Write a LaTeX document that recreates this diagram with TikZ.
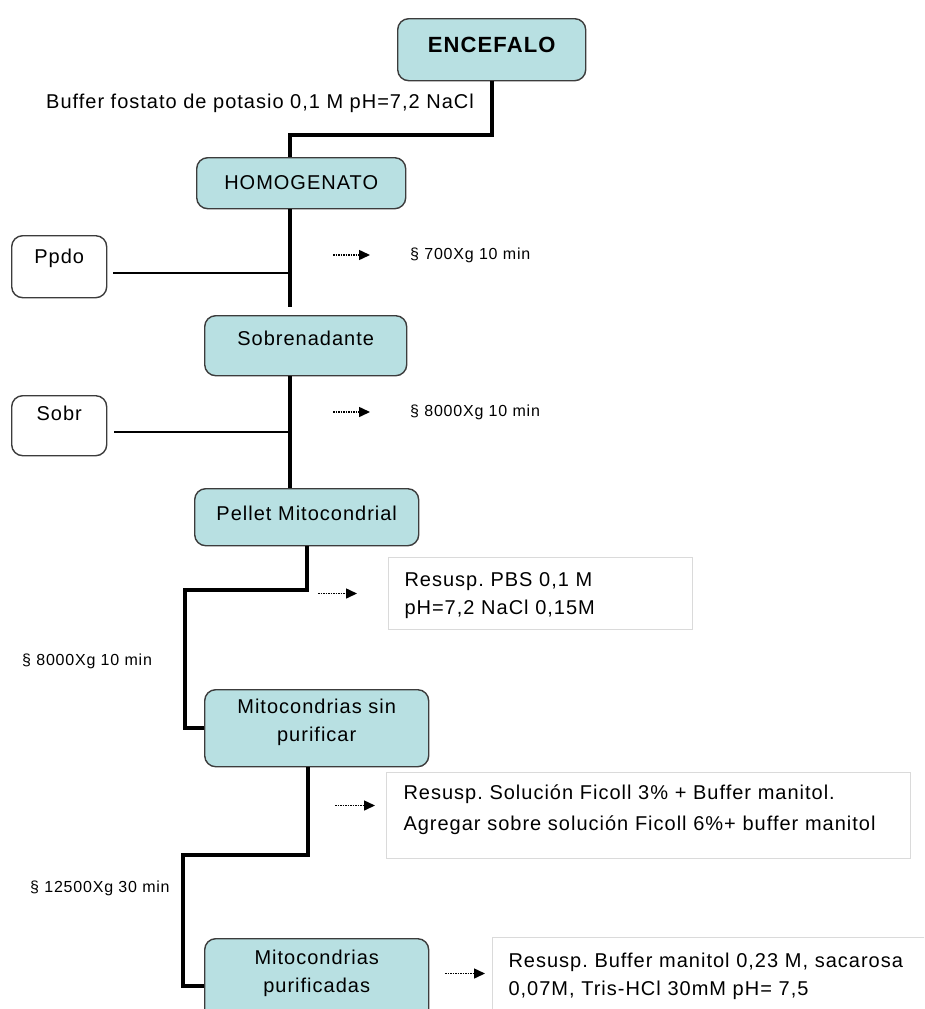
\documentclass[tikz,border=0pt]{standalone}
\usepackage{fontspec}
\setmainfont{Liberation Sans}[LetterSpace=5]
\frenchspacing
\usetikzlibrary{arrows.meta}
\definecolor{celeste}{RGB}{184,224,226}
\definecolor{borde}{RGB}{60,60,60}
\definecolor{marco}{RGB}{218,218,218}
\tikzset{
    paso/.style={rectangle, rounded corners=11pt, draw=borde, line width=1.4pt,
        fill=celeste, align=center, anchor=north west, inner xsep=4pt,
        text height=15pt, font=\fontsize{20}{28}\selectfont},
    resto/.style={paso, fill=white},
    nota/.style={rectangle, draw=marco, line width=1pt, fill=white, align=left,
        anchor=north west, text height=15pt, font=\fontsize{20}{28}\selectfont},
    dato/.style={anchor=west, inner sep=0pt, font=\fontsize{16}{18}\selectfont},
    linea/.style={line width=3.6pt},
    ramal/.style={line width=2.7pt},
    flecha/.style={densely dotted, line width=1.5pt, -{Triangle[length=11pt, width=10pt]}}}

\begin{document}
\begin{tikzpicture}[x=1pt, y=-1pt]
    \useasboundingbox (0,0) rectangle (924,1009);
    \clip (0,0) rectangle (924,1009);

    % cajas del fraccionamiento
    \node[paso, font=\bfseries\fontsize{22}{26}\selectfont, text height=17pt,
        text width=180pt, text depth=12pt, inner ysep=16.5pt] (encefalo) at (397,18) {ENCEFALO};
    \node[paso, text width=201pt, text depth=2pt, inner ysep=17pt] (homogenato) at (196,157) {HOMOGENATO};
    \node[resto, text width=87pt, text depth=21pt, inner ysep=13pt] (ppdo) at (11,235) {Ppdo};
    \node[paso, text width=194pt, text depth=15pt, inner ysep=15pt] (sobrenadante) at (204,315) {Sobrenadante};
    \node[resto, text width=87pt, text depth=25pt, inner ysep=10pt] (sobr) at (11,395) {Sobr};
    \node[paso, text width=216pt, text depth=8pt, inner ysep=17pt] (pellet) at (194,488) {Pellet Mitocondrial};
    \node[paso, text width=216pt, text depth=44pt, inner ysep=9pt] (sinpurificar) at (204,689) {Mitocondrias sin\\purificar};
    \node[paso, text width=216pt, text depth=57pt, inner ysep=11pt] (purificadas) at (204,938) {Mitocondrias\\purificadas};

    % resuspensiones
    \node[nota, text width=272pt, inner xsep=16pt, inner ysep=14pt, text depth=29pt] (pbs) at (388,557)
        {Resusp. PBS 0,1 M\\pH=7,2 NaCl 0,15M};
    \node[nota, text width=490pt, inner xsep=17pt, inner ysep=12pt, text depth=47pt,
        font=\fontsize{20}{31}\selectfont] (ficoll) at (386,772)
        {Resusp. Solución Ficoll 3\% + Buffer manitol.\\Agregar sobre solución Ficoll 6\%+ buffer manitol};
    \node[nota, text width=420pt, inner xsep=16pt, inner ysep=15pt, text depth=60pt] (manitol) at (492,937)
        {Resusp. Buffer manitol 0,23 M, sacarosa\\0,07M, Tris-HCl 30mM pH= 7,5};

    % condiciones
    \node[dato, font=\fontsize{20}{24}\selectfont] (buffer) at (46,103) {Buffer fostato de potasio 0,1 M pH=7,2 NaCl};
    \node[dato] (g700) at (410,255) {§ 700Xg 10 min};
    \node[dato] (g8000a) at (410,412) {§ 8000Xg 10 min};
    \node[dato] (g8000b) at (22,661) {§ 8000Xg 10 min};
    \node[dato] (g12500) at (30,888) {§ 12500Xg 30 min};

    % lineas
    \coordinate (codo1) at (491,135);
    \coordinate (eje) at (290,135);
    \draw[linea] (encefalo.south) |- (eje) -- (homogenato.north -| eje);
    \draw[linea, shorten >=8pt] (homogenato.south -| eje) -- (sobrenadante.north -| eje);
    \coordinate (cruce1) at (290,273);
    \draw[ramal, shorten <=6pt] (ppdo.east |- cruce1) -- (cruce1);
    \draw[linea] (sobrenadante.south -| eje) -- (pellet.north -| eje);
    \coordinate (cruce2) at (290,432);
    \draw[ramal, shorten <=7pt] (sobr.east |- cruce2) -- (cruce2);
    \coordinate (codo2) at (185,590);
    \draw[linea] (pellet.south) |- (codo2) |- (sinpurificar.west);
    \coordinate (codo3) at (308,855);
    \coordinate (codo4) at (183,855);
    \draw[linea] (sinpurificar.south -| codo3) -- (codo3) -- (codo4) |- (purificadas.west);

    % flechas punteadas
    \draw[flecha] ([xshift=-77pt]g700.west) -- ([xshift=-40pt]g700.west);
    \draw[flecha] ([xshift=-77pt]g8000a.west) -- ([xshift=-40pt]g8000a.west);
    \draw[flecha] ([xshift=-70pt]pbs.west) -- ([xshift=-31pt]pbs.west);
    \draw[flecha] ([xshift=-51pt, yshift=10pt]ficoll.west) -- ([xshift=-11pt, yshift=10pt]ficoll.west);
    \draw[flecha] ([xshift=-47pt, yshift=16.5pt]manitol.west) -- ([xshift=-7pt, yshift=16.5pt]manitol.west);
\end{tikzpicture}
\end{document}
